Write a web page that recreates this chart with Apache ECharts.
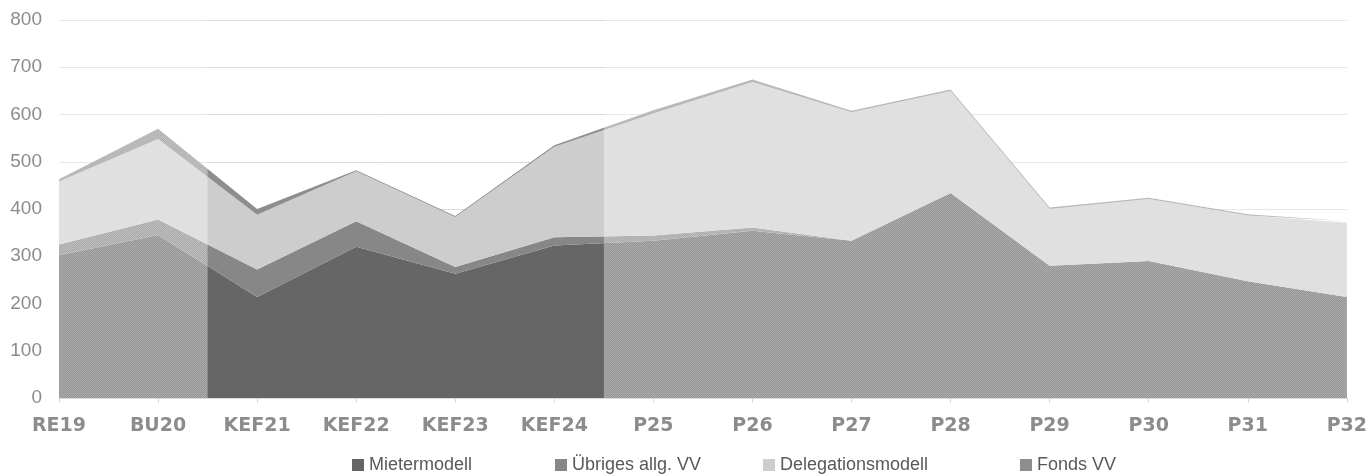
<!DOCTYPE html>
<html>
<head>
<meta charset="utf-8">
<script src="https://cdn.jsdelivr.net/npm/echarts@6/dist/echarts.min.js"></script>
<style>
  html, body { margin: 0; padding: 0; background: #fff; }
  #main { width: 1370px; height: 474px; }
</style>
</head>
<body>
<div id="main"></div>
<script>
var categories = ['RE19', 'BU20', 'KEF21', 'KEF22', 'KEF23', 'KEF24', 'P25', 'P26', 'P27', 'P28', 'P29', 'P30', 'P31', 'P32'];
var mietermodell = [302, 345, 214, 320, 263, 323, 333, 354, 333, 434, 280, 290, 247, 214];
var uebriges = [23, 33, 58, 54, 14, 17, 11, 7, 0, 0, 0, 0, 0, 0];
var delegation = [133, 170, 116, 106, 106, 192, 258, 308, 272, 216, 120, 131, 139, 157];
var fonds = [5, 22, 12, 2, 2, 3, 7, 5, 3, 3, 3, 3, 3, 3];
var yTicks = [0, 100, 200, 300, 400, 500, 600, 700, 800];
var seriesNames = ['Mietermodell', 'Übriges allg. VV', 'Delegationsmodell', 'Fonds VV'];
// shaded (non-KEF) periods, in category index units
var shadeRanges = [[0, 1.5], [5.5, 13]];

var font = 'Liberation Sans, Arial, sans-serif';
var legendLefts = [347, 550, 758, 1015];
var yMax = yTicks[yTicks.length - 1];

// light dotted overlay like the original
var pat = document.createElement('canvas');
pat.width = 2; pat.height = 2;
var pctx = pat.getContext('2d');
pctx.fillStyle = 'rgba(255,255,255,0.44)';
pctx.fillRect(0, 0, 1, 1); pctx.fillRect(1, 1, 1, 1);
pctx.fillStyle = 'rgba(255,255,255,0.32)';
pctx.fillRect(1, 0, 1, 1); pctx.fillRect(0, 1, 1, 1);

function areaSeries(name, data, color) {
  return {
    name: name,
    type: 'line',
    stack: 'Total',
    data: data,
    symbol: 'none',
    lineStyle: { width: 0 },
    areaStyle: { color: color, opacity: 1 },
    itemStyle: { color: color },
    emphasis: { disabled: true }
  };
}

var chartDom = document.getElementById('main');
var myChart = echarts.init(chartDom);
var option = {
  animation: false,
  legend: seriesNames.map(function (n, i) {
    return {
      data: [n],
      top: 451,
      left: legendLefts[i],
      icon: 'rect',
      itemWidth: 12,
      itemHeight: 12,
      itemGap: 0,
      textStyle: { fontFamily: font, fontSize: 18, color: '#595959' }
    };
  }),
  grid: { left: 59, right: 20, top: 20, bottom: 76 },
  xAxis: [
    {
      type: 'category',
      boundaryGap: false,
      data: categories,
      axisLine: { lineStyle: { color: '#d9d9d9' } },
      axisTick: { show: true, length: 5, lineStyle: { color: '#d9d9d9' } },
      axisLabel: { fontFamily: 'DejaVu Sans, sans-serif', fontSize: 19, fontWeight: 'bold', color: '#8c8c8c', margin: 19 }
    },
    { type: 'value', min: 0, max: categories.length - 1, show: false }
  ],
  yAxis: {
    type: 'value',
    min: yTicks[0],
    max: yMax,
    interval: 100,
    axisLine: { show: false },
    axisTick: { show: false },
    splitLine: { lineStyle: { color: '#d9d9d9' } },
    axisLabel: { fontFamily: font, fontSize: 19, color: '#8c8c8c', margin: 17 }
  },
  series: [
    areaSeries(seriesNames[0], mietermodell, '#666666'),
    areaSeries(seriesNames[1], uebriges, '#878787'),
    areaSeries(seriesNames[2], delegation, '#cdcdcd'),
    areaSeries(seriesNames[3], fonds, '#8e8e8e'),
    {
      type: 'custom',
      xAxisIndex: 1,
      silent: true,
      z: 10,
      data: shadeRanges,
      encode: { x: [0, 1] },
      renderItem: function (params, api) {
        var p0 = api.coord([api.value(0), yMax]);
        var p1 = api.coord([api.value(1), 0]);
        return {
          type: 'rect',
          shape: { x: p0[0], y: p0[1], width: p1[0] - p0[0], height: p1[1] - p0[1] },
          style: { fill: { image: pat, repeat: 'repeat' } }
        };
      }
    }
  ]
};

option && myChart.setOption(option);
</script>
</body>
</html>
